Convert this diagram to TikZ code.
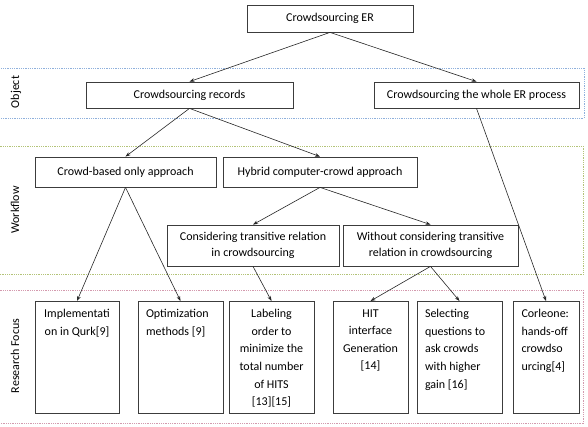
\documentclass[tikz,border=0pt]{standalone}
\usepackage{fontspec}
\setmainfont{Carlito}
\usetikzlibrary{arrows.meta}
\definecolor{objband}{HTML}{8FB0DC}
\definecolor{wfband}{HTML}{B3C378}
\definecolor{rfband}{HTML}{D49AAE}
\definecolor{boxline}{HTML}{3C3C3C}
\newcommand\rfpar[3]{\parbox[t][112pt][t]{#1}{\vspace*{8pt}#2\setlength\baselineskip{17.6pt}#3\par}}
\begin{document}
\begin{tikzpicture}[x=1pt,y=-1pt,
  every node/.style={font=\fontsize{12}{16}\selectfont},
  wbox/.style={draw=boxline,line width=0.8pt,inner sep=0pt,align=center},
  rbox/.style={draw=boxline,line width=0.8pt,inner sep=0pt,anchor=north,minimum height=112pt},
  band/.style={line width=0.9pt,dash pattern=on 0.9pt off 0.9pt},
  bandlabel/.style={rotate=90},
  conn/.style={draw=black!85,line width=0.6pt,-{Stealth[length=5pt,width=3.6pt]}}]
\useasboundingbox (0,0) rectangle (588,427);
% bands
\draw[band,draw=objband] (-3,68) rectangle (584,118);
\draw[band,draw=wfband] (-3,146) rectangle (583,274.5);
\draw[band,draw=rfband] (-3,290) rectangle (583,423);
\node[bandlabel] (lobj) at (16,92) {Object};
\node[bandlabel] (lwf) at (15,210) {Workflow};
\node[bandlabel] (lrf) at (15,356) {Research Focus};
% main boxes
\node[wbox,minimum width=166pt,minimum height=27pt] (er) at (330,18.5) {Crowdsourcing ER};
\node[wbox,minimum width=207pt,minimum height=26pt] (rec) at (189.5,95) {Crowdsourcing records};
\node[wbox,minimum width=205pt,minimum height=26pt] (whole) at (476.5,95) {Crowdsourcing the whole ER process};
\node[wbox,minimum width=181pt,minimum height=30pt] (crowd) at (125.5,172) {Crowd-based only approach};
\node[wbox,minimum width=194pt,minimum height=30pt] (hybrid) at (320,172) {Hybrid computer-crowd approach};
\node[wbox,minimum width=172pt,minimum height=41pt] (cons) at (253,245.5) {Considering transitive relation\\in crowdsourcing};
\node[wbox,minimum width=175pt,minimum height=41pt] (without) at (430.5,245.5) {Without considering transitive\\relation in crowdsourcing};
% research focus boxes
\node[rbox,minimum width=84pt] (r1) at (77,301) {\rfpar{72pt}{\centering}{Implementati\\on in Qurk[9]}};
\node[rbox,minimum width=85pt] (r2) at (180.5,301) {\rfpar{69pt}{\raggedright}{Optimization\\methods [9]}};
\node[rbox,minimum width=85pt] (r3) at (271.5,301) {\rfpar{81pt}{\centering}{Labeling\\order to\\minimize the\\total number\\of HITS\\{}[13][15]}};
\node[rbox,minimum width=75pt] (r4) at (370.5,301) {\rfpar{67pt}{\centering}{HIT\\interface\\Generation\\{}[14]}};
\node[rbox,minimum width=85pt] (r5) at (459.5,301) {\rfpar{69pt}{\raggedright}{Selecting\\questions to\\ask crowds\\with higher\\gain [16]}};
\node[rbox,minimum width=66pt] (r6) at (546,301) {\rfpar{49pt}{\raggedright}{Corleone:\\hands-off\\crowdso\\urcing[4]}};
% connectors
\draw[conn] (er.south) -- (rec.north);
\draw[conn] (er.south) -- (whole.north);
\draw[conn] (rec.south) -- (crowd.north);
\draw[conn] (rec.south) -- (hybrid.north);
\draw[conn] (hybrid.south) -- (cons.north);
\draw[conn] (hybrid.south) -- (without.north);
\draw[conn] (crowd.south) -- (r1.north);
\draw[conn] (crowd.south) -- (r2.north);
\draw[conn] (cons.south) -- (r3.north);
\draw[conn] (without.south) -- (r4.north);
\draw[conn] (without.south) -- (r5.north);
\draw[conn] (whole.south) -- (r6.north);
\end{tikzpicture}
\end{document}
